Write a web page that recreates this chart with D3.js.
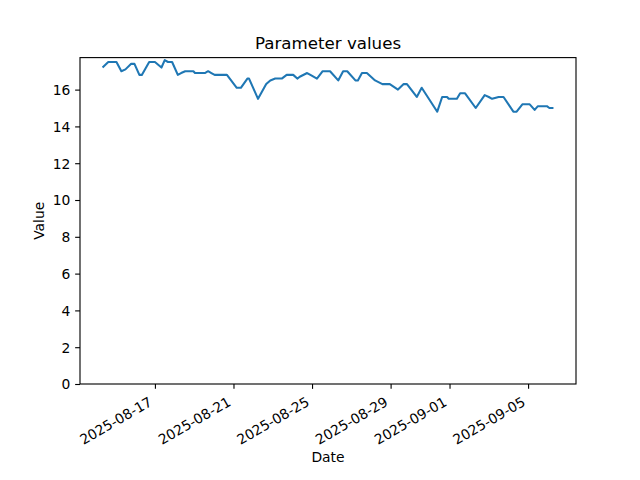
<!DOCTYPE html>
<html>
<head>
<meta charset="utf-8">
<script src="https://cdn.jsdelivr.net/npm/d3@7"></script>
<style>
  html, body { margin: 0; padding: 0; background: #fff; }
  svg { display: block; }
  text { font-family: "DejaVu Sans", sans-serif; fill: #000; }
</style>
</head>
<body>
<svg id="chart" width="640" height="480"></svg>
<script>
// ---- data ----
const times = [
  "2025-08-14T08:00","2025-08-14T15:00","2025-08-15T01:00","2025-08-15T07:00","2025-08-15T12:00",
  "2025-08-15T19:00","2025-08-15T23:00","2025-08-16T05:00","2025-08-16T08:00","2025-08-16T17:00",
  "2025-08-17T00:00","2025-08-17T08:00","2025-08-17T12:00","2025-08-17T16:00","2025-08-17T21:00",
  "2025-08-18T04:00","2025-08-18T08:00","2025-08-18T13:00","2025-08-18T23:00","2025-08-19T01:00",
  "2025-08-19T13:00","2025-08-19T17:00","2025-08-19T21:00","2025-08-20T01:00","2025-08-20T16:00",
  "2025-08-21T04:00","2025-08-21T09:00","2025-08-21T17:00","2025-08-21T19:00","2025-08-22T06:00",
  "2025-08-22T16:00","2025-08-22T21:00","2025-08-23T03:00","2025-08-23T11:00","2025-08-23T17:00",
  "2025-08-24T01:00","2025-08-24T06:00","2025-08-24T09:00","2025-08-24T18:00","2025-08-24T22:00",
  "2025-08-25T06:00","2025-08-25T13:00","2025-08-25T22:00","2025-08-26T08:00","2025-08-26T14:00",
  "2025-08-26T19:00","2025-08-27T05:00","2025-08-27T08:00","2025-08-27T13:00","2025-08-27T19:00",
  "2025-08-28T05:00","2025-08-28T14:00","2025-08-28T23:00","2025-08-29T09:00","2025-08-29T16:00",
  "2025-08-29T20:00","2025-08-30T08:00","2025-08-30T14:00","2025-08-31T09:00","2025-08-31T15:00",
  "2025-08-31T21:00","2025-08-31T23:00","2025-09-01T09:00","2025-09-01T13:00","2025-09-01T19:00",
  "2025-09-02T08:00","2025-09-02T19:00","2025-09-03T00:00","2025-09-03T04:00","2025-09-03T12:00",
  "2025-09-03T18:00","2025-09-04T06:00","2025-09-04T10:00","2025-09-04T17:00","2025-09-05T02:00",
  "2025-09-05T08:00","2025-09-05T12:00","2025-09-05T23:00","2025-09-06T02:00","2025-09-06T07:00"
];
const values = [
  17.2,17.5,17.5,17.0,17.1,
  17.4,17.4,16.8,16.8,17.5,
  17.5,17.2,17.6,17.5,17.5,
  16.8,16.9,17.0,17.0,16.9,
  16.9,17.0,16.9,16.8,16.8,
  16.1,16.1,16.6,16.6,15.5,
  16.3,16.5,16.6,16.6,16.8,
  16.8,16.6,16.7,16.9,16.8,
  16.6,17.0,17.0,16.5,17.0,
  17.0,16.5,16.5,16.9,16.9,
  16.5,16.3,16.3,16.0,16.3,
  16.3,15.6,16.1,14.8,15.6,
  15.6,15.5,15.5,15.8,15.8,
  15.0,15.7,15.6,15.5,15.6,
  15.6,14.8,14.8,15.2,15.2,
  14.9,15.1,15.1,15.0,15.0
];
const xTickLabels = ["2025-08-17","2025-08-21","2025-08-25","2025-08-29","2025-09-01","2025-09-05"];
const yTickValues = [0,2,4,6,8,10,12,14,16];
const titleText = "Parameter values";
const xLabelText = "Date";
const yLabelText = "Value";

// ---- layout ----
const W = 640, H = 480;
const L = 80, R = 576, T = 57.6, B = 384;
const color = "#1f77b4";
const fs = 13.89;

const parse = d3.utcParse("%Y-%m-%dT%H:%M");
const parseDay = d3.utcParse("%Y-%m-%d");
const data = times.map((t, i) => ({ t: parse(t), v: values[i] }));

const [t0, t1] = d3.extent(data, d => d.t);
const span = t1 - t0;
const x = d3.scaleUtc()
  .domain([new Date(+t0 - span * 0.05), new Date(+t1 + span * 0.05)])
  .range([L, R]);

const [vmin, vmax] = d3.extent(values);
const y = d3.scaleLinear()
  .domain([0, vmax + (vmax - vmin) * 0.05])
  .range([B, T]);

const svg = d3.select("#chart");

// line
const line = d3.line().x(d => x(d.t)).y(d => y(d.v));
svg.append("path")
  .datum(data)
  .attr("d", line)
  .attr("fill", "none")
  .attr("stroke", color)
  .attr("stroke-width", 2.08)
  .attr("stroke-linejoin", "round")
  .attr("stroke-linecap", "butt");

// x axis
const xTicks = xTickLabels.map(s => parseDay(s));
const xAxis = d3.axisBottom(x).tickValues(xTicks).tickSize(4.86).tickFormat("");
const gx = svg.append("g").attr("transform", `translate(0,${B})`).call(xAxis);
gx.select(".domain").remove();
gx.selectAll(".tick line").attr("stroke", "#000").attr("stroke-width", 1.11);

const xl = svg.append("g");
xTicks.forEach((d, i) => {
  xl.append("text")
    .attr("transform", `translate(${x(d)},${B + 9.7 + 14})rotate(-30)`)
    .attr("y", -3.4)
    .attr("text-anchor", "end")
    .style("font-size", fs + "px")
    .text(xTickLabels[i]);
});

// y axis
const yAxis = d3.axisLeft(y).tickValues(yTickValues).tickSize(4.86).tickPadding(4.86).tickFormat(d3.format("d"));
const gy = svg.append("g").attr("transform", `translate(${L},0)`).call(yAxis);
gy.select(".domain").remove();
gy.selectAll(".tick line").attr("stroke", "#000").attr("stroke-width", 1.11);
gy.selectAll(".tick text")
  .attr("dy", "0.35em")
  .style("font-size", fs + "px")
  .style("font-family", "DejaVu Sans, sans-serif")
  .attr("fill", "#000");

// spines
svg.append("rect")
  .attr("x", L).attr("y", T)
  .attr("width", R - L).attr("height", B - T)
  .attr("fill", "none")
  .attr("stroke", "#000")
  .attr("stroke-width", 1.11);

// title and labels
svg.append("text")
  .attr("x", (L + R) / 2).attr("y", T - 8.33)
  .attr("text-anchor", "middle")
  .style("font-size", "16.67px")
  .text(titleText);

svg.append("text")
  .attr("x", (L + R) / 2).attr("y", 462)
  .attr("text-anchor", "middle")
  .style("font-size", fs + "px")
  .text(xLabelText);

svg.append("text")
  .attr("transform", `translate(44,${(T + B) / 2})rotate(-90)`)
  .attr("text-anchor", "middle")
  .style("font-size", fs + "px")
  .text(yLabelText);
</script>
</body>
</html>
